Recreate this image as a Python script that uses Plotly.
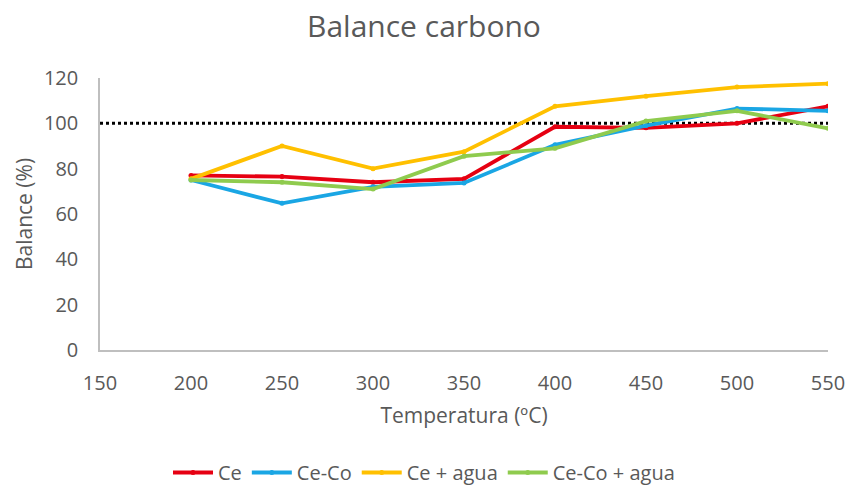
import plotly.graph_objects as go

temperatures = [200, 250, 300, 350, 400, 450, 500, 550]
ce = [77, 76.5, 74, 75.5, 98.5, 98, 100, 107.5]
ce_co = [75, 64.7, 72, 73.7, 90.5, 99, 106.5, 105.5]
ce_agua = [75.5, 90, 80, 87.5, 107.5, 112, 116, 117.5]
ce_co_agua = [75, 74, 71, 85.5, 89, 101, 105.5, 97.8]
ref_x = [150, 550]
ref_y = [100, 100]

series = [
    ("Ce", ce, "#E60012"),
    ("Ce-Co", ce_co, "#1AA6E4"),
    ("Ce + agua", ce_agua, "#FFC000"),
    ("Ce-Co + agua", ce_co_agua, "#8FCB4E"),
]

fig = go.Figure()
fig.add_trace(go.Scatter(x=ref_x, y=ref_y, mode="lines",
                         line=dict(color="black", width=3, dash="dot"),
                         showlegend=False, hoverinfo="skip"))
for name, vals, col in series:
    fig.add_trace(go.Scatter(x=temperatures, y=vals, name=name, mode="lines+markers",
                             line=dict(color=col, width=3.8),
                             marker=dict(color=col, size=5)))

font_c = "#595959"
fig.update_layout(
    width=848, height=492,
    paper_bgcolor="white", plot_bgcolor="white",
    margin=dict(l=100, r=20, t=78, b=142),
    font=dict(family="Open Sans", color=font_c, size=20),
    title=dict(text="Balance carbono", x=0.5, xanchor="center", y=0.947, yanchor="middle",
               font=dict(size=30, color=font_c)),
    xaxis=dict(range=[150, 550], dtick=50, tick0=150, showgrid=False, zeroline=False,
               showline=True, linecolor="#BFBFBF", linewidth=1.5, ticks="",
               ticklabelstandoff=14, automargin=False,
               title=dict(text="Temperatura (ºC)", font=dict(size=21, color=font_c), standoff=14),
               tickfont=dict(size=20, color=font_c)),
    yaxis=dict(range=[0, 120], dtick=20, showgrid=False, zeroline=False,
               showline=True, linecolor="#BFBFBF", linewidth=1.5, ticks="",
               ticklabelstandoff=16, automargin=False,
               title=dict(text="Balance (%)", font=dict(size=21, color=font_c), standoff=6),
               tickfont=dict(size=20, color=font_c)),
    legend=dict(orientation="h", xref="container", x=0.5, xanchor="center",
                yref="container", y=-0.014, yanchor="bottom",
                font=dict(size=20, color=font_c), itemwidth=40, tracegroupgap=0),
)

fig.write_html("out.html")
